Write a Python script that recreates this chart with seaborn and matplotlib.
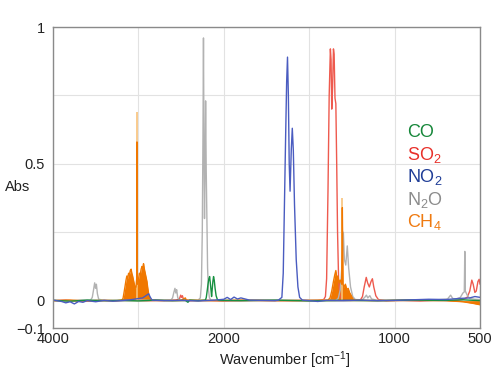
import numpy as np
import pandas as pd
import matplotlib
matplotlib.use('Agg')
import matplotlib.pyplot as plt
from matplotlib.ticker import NullLocator
import seaborn as sns

# spectra: (wavenumber cm-1, absorbance)
co_pts = [(4000, 0.001), (3800, -0.002), (3600, 0.002), (3400, 0.000), (3200, 0.001),
          (3000, -0.001), (2800, 0.002), (2600, 0.000), (2450, 0.001), (2420, -0.006),
          (2400, 0.002), (2300, 0.000), (2215, 0.002), (2205, 0.012), (2195, 0.035),
          (2185, 0.060), (2175, 0.080), (2166, 0.088), (2158, 0.065), (2150, 0.040),
          (2143, 0.015), (2136, 0.040), (2128, 0.070), (2120, 0.088), (2112, 0.075),
          (2102, 0.045), (2090, 0.018), (2075, 0.004), (2060, 0.001), (1900, 0.000),
          (1700, 0.002), (1500, -0.001), (1300, 0.001), (1100, 0.000), (900, 0.002),
          (700, 0.001), (600, 0.003), (500, 0.000)]

so2_pts = [(4000, 0.000), (3850, 0.002), (3700, -0.002), (3500, 0.001), (3300, 0.000),
           (3100, 0.002), (2900, 0.000), (2700, 0.001), (2560, 0.002), (2520, 0.006),
           (2505, 0.020), (2495, 0.012), (2485, 0.018), (2470, 0.003), (2400, 0.000),
           (2200, 0.001), (2000, -0.001), (1800, 0.001), (1600, 0.000), (1450, 0.001),
           (1415, 0.004), (1405, 0.015), (1398, 0.08), (1390, 0.40), (1383, 0.75),
           (1376, 0.92), (1372, 0.88), (1368, 0.70), (1363, 0.78), (1358, 0.92),
           (1354, 0.90), (1349, 0.74), (1344, 0.72), (1339, 0.50), (1334, 0.25),
           (1328, 0.08), (1320, 0.02), (1310, 0.004), (1260, 0.001), (1200, 0.003),
           (1188, 0.015), (1178, 0.050), (1166, 0.085), (1158, 0.065), (1148, 0.050),
           (1138, 0.070), (1130, 0.080), (1122, 0.050), (1110, 0.018), (1095, 0.004),
           (1050, 0.000), (950, 0.001), (850, -0.001), (750, 0.002), (650, 0.000),
           (600, 0.004), (575, 0.012), (560, 0.035), (548, 0.075), (540, 0.060),
           (530, 0.030), (522, 0.035), (512, 0.070), (505, 0.078), (500, 0.060)]

no2_pts = [(4000, 0.002), (3900, -0.003), (3850, -0.008), (3800, -0.004), (3750, -0.012),
           (3700, -0.003), (3650, -0.006), (3600, 0.000), (3500, -0.004), (3400, 0.001),
           (3300, -0.002), (3200, 0.000), (3100, 0.003), (2950, 0.010), (2880, 0.025),
           (2860, 0.012), (2840, 0.002), (2700, 0.000), (2500, 0.001), (2300, -0.001),
           (2100, 0.002), (2000, 0.005), (1980, 0.012), (1960, 0.004), (1940, 0.013),
           (1920, 0.006), (1900, 0.010), (1850, 0.002), (1780, 0.001), (1700, 0.000),
           (1680, 0.002), (1660, 0.012), (1652, 0.10), (1645, 0.35), (1638, 0.60),
           (1632, 0.80), (1627, 0.89), (1622, 0.75), (1617, 0.50), (1612, 0.40),
           (1605, 0.55), (1599, 0.63), (1593, 0.55), (1586, 0.35), (1576, 0.15),
           (1566, 0.05), (1556, 0.012), (1540, 0.002), (1500, 0.000), (1450, -0.003),
           (1400, 0.001), (1300, 0.000), (1200, 0.002), (1100, 0.000), (1000, 0.001),
           (900, 0.003), (800, 0.005), (700, 0.004), (620, 0.008), (560, 0.010),
           (530, 0.015), (500, 0.012)]

n2o_pts = [(4000, 0.001), (3800, 0.000), (3650, 0.002), (3560, 0.002), (3540, 0.012),
           (3525, 0.040), (3512, 0.065), (3502, 0.045), (3492, 0.060), (3480, 0.025),
           (3465, 0.005), (3400, 0.001), (3200, 0.000), (3000, 0.002), (2800, 0.001),
           (2620, 0.002), (2600, 0.010), (2585, 0.030), (2572, 0.045), (2562, 0.028),
           (2552, 0.040), (2540, 0.012), (2525, 0.003), (2400, 0.001), (2300, 0.002),
           (2275, 0.010), (2262, 0.06), (2252, 0.25), (2244, 0.60), (2238, 0.96),
           (2232, 0.55), (2226, 0.30), (2219, 0.50), (2213, 0.73), (2206, 0.48),
           (2198, 0.30), (2190, 0.12), (2180, 0.04), (2168, 0.010), (2150, 0.002),
           (2000, 0.001), (1800, 0.000), (1500, 0.002), (1345, 0.001), (1330, 0.008),
           (1318, 0.04), (1308, 0.13), (1300, 0.25), (1294, 0.15), (1286, 0.13),
           (1277, 0.20), (1269, 0.12), (1258, 0.05), (1245, 0.015), (1230, 0.004),
           (1190, 0.003), (1175, 0.012), (1165, 0.020), (1157, 0.010), (1145, 0.018),
           (1135, 0.006), (1100, 0.001), (900, 0.002), (750, 0.003), (690, 0.006),
           (672, 0.020), (660, 0.008), (640, 0.006), (615, 0.012), (600, 0.028),
           (592, 0.032), (589, 0.18), (586, 0.035), (575, 0.020), (560, 0.008),
           (530, 0.005), (500, 0.004)]

ch4_pts = [(4000, 0.000), (3800, 0.002), (3600, -0.001), (3400, 0.001), (3250, 0.000),
           (3195, 0.002), (3180, 0.008), (3168, 0.030), (3155, 0.055), (3145, 0.075),
           (3135, 0.090), (3125, 0.080), (3115, 0.100), (3105, 0.095), (3095, 0.110),
           (3085, 0.115), (3077, 0.100), (3068, 0.090), (3058, 0.075), (3048, 0.060),
           (3038, 0.045), (3028, 0.050), (3020, 0.080), (3017, 0.58), (3014, 0.080),
           (3008, 0.060), (2998, 0.080), (2988, 0.100), (2978, 0.095), (2968, 0.115),
           (2958, 0.125), (2948, 0.120), (2940, 0.135), (2930, 0.115), (2920, 0.100),
           (2910, 0.085), (2900, 0.070), (2890, 0.045), (2880, 0.025), (2868, 0.008),
           (2850, 0.002), (2700, 0.000), (2500, 0.001), (2450, 0.010), (2440, 0.002),
           (2300, 0.001), (2100, 0.000), (1900, 0.002), (1700, 0.000), (1500, 0.001),
           (1390, 0.002), (1378, 0.010), (1368, 0.035), (1358, 0.070), (1350, 0.095),
           (1344, 0.110), (1338, 0.080), (1332, 0.090), (1325, 0.065), (1318, 0.075),
           (1310, 0.060), (1306, 0.34), (1302, 0.060), (1296, 0.050), (1288, 0.060),
           (1280, 0.040), (1272, 0.045), (1264, 0.030), (1255, 0.020), (1246, 0.008),
           (1235, 0.002), (1100, 0.000), (900, 0.002), (700, 0.000), (600, -0.004),
           (540, -0.010), (500, -0.015)]
ch4_tops = [(3017, 0.69), (1306, 0.376)]

gases = ['CO', 'SO$_2$', 'NO$_2$', 'N$_2$O', 'CH$_4$']
text_colors = ['#16873a', '#e8302a', '#1f3d97', '#8c8c8c', '#ef7a10']

sns.set_style('white')
plt.rcParams['font.family'] = ['Liberation Sans', 'DejaVu Sans']
plt.rcParams['mathtext.default'] = 'regular'


def fwd(w):
    w = np.asarray(w, float)
    return np.where(w >= 2000, w, 2 * w - 2000)


def inv(u):
    u = np.asarray(u, float)
    return np.where(u >= 2000, u, (u + 2000) / 2)


def frame(pts):
    return pd.DataFrame(pts, columns=['wn', 'abs'])


fig, ax = plt.subplots(figsize=(5, 3.7), dpi=100)
fig.subplots_adjust(left=0.106, right=0.96, bottom=0.1135, top=0.927)
ax.set_xscale('function', functions=(fwd, inv))

ch4 = frame(ch4_pts)
tops = frame(ch4_tops)

sns.lineplot(data=frame(so2_pts), x='wn', y='abs', sort=False, estimator=None,
             color='#ee5a4e', lw=1.0, ax=ax)
sns.lineplot(data=frame(n2o_pts), x='wn', y='abs', sort=False, estimator=None,
             color='#b2b2b2', lw=1.0, ax=ax)
ax.vlines(tops['wn'], 0, tops['abs'], color='#f8c27a', lw=1.2)
ax.fill_between(ch4['wn'], 0, ch4['abs'], color='#f07800', lw=0)
sns.lineplot(data=ch4, x='wn', y='abs', sort=False, estimator=None,
             color='#f07800', lw=1.0, ax=ax)
sns.lineplot(data=frame(co_pts), x='wn', y='abs', sort=False, estimator=None,
             color='#169040', lw=1.0, ax=ax)
sns.lineplot(data=frame(no2_pts), x='wn', y='abs', sort=False, estimator=None,
             color='#4a5cc0', lw=1.0, ax=ax)

ax.set_xlim(4000, 500)
ax.set_ylim(-0.1, 1.0)
ax.set_xticks([4000, 3000, 2000, 1500, 1000, 500])
ax.set_xticklabels(['4000', '', '2000', '', '1000', '500'])
ax.xaxis.set_minor_locator(NullLocator())
ax.set_yticks([-0.1, 0, 0.25, 0.5, 0.75, 1])
ax.set_yticklabels(['\u22120.1', '0', '', '0.5', '', '1'])
ax.grid(True, color='#e2e2e2', lw=0.8)
ax.tick_params(axis='x', length=0, pad=3, labelsize=10.5, colors='#222222')
ax.tick_params(axis='y', length=4, width=0.8, color='#999999', pad=2,
               labelsize=10.5, labelcolor='#222222')
for s in ax.spines.values():
    s.set_color('#8a8a8a')
    s.set_linewidth(1.0)

ax.set_xlabel('Wavenumber [cm$^{-1}$]', fontsize=10.5, color='#222222')
ax.xaxis.set_label_coords(0.543, -0.07)
ax.set_ylabel('Abs', rotation=0, ha='left', va='center', fontsize=10.5, color='#222222')
ax.yaxis.set_label_coords(-0.112, 0.468)

ys = [0.651, 0.576, 0.501, 0.426, 0.352]
for g, c, y in zip(gases, text_colors, ys):
    ax.text(0.829, y, g, transform=ax.transAxes, color=c, fontsize=13, va='center')

fig.savefig('out.png', dpi=100)
